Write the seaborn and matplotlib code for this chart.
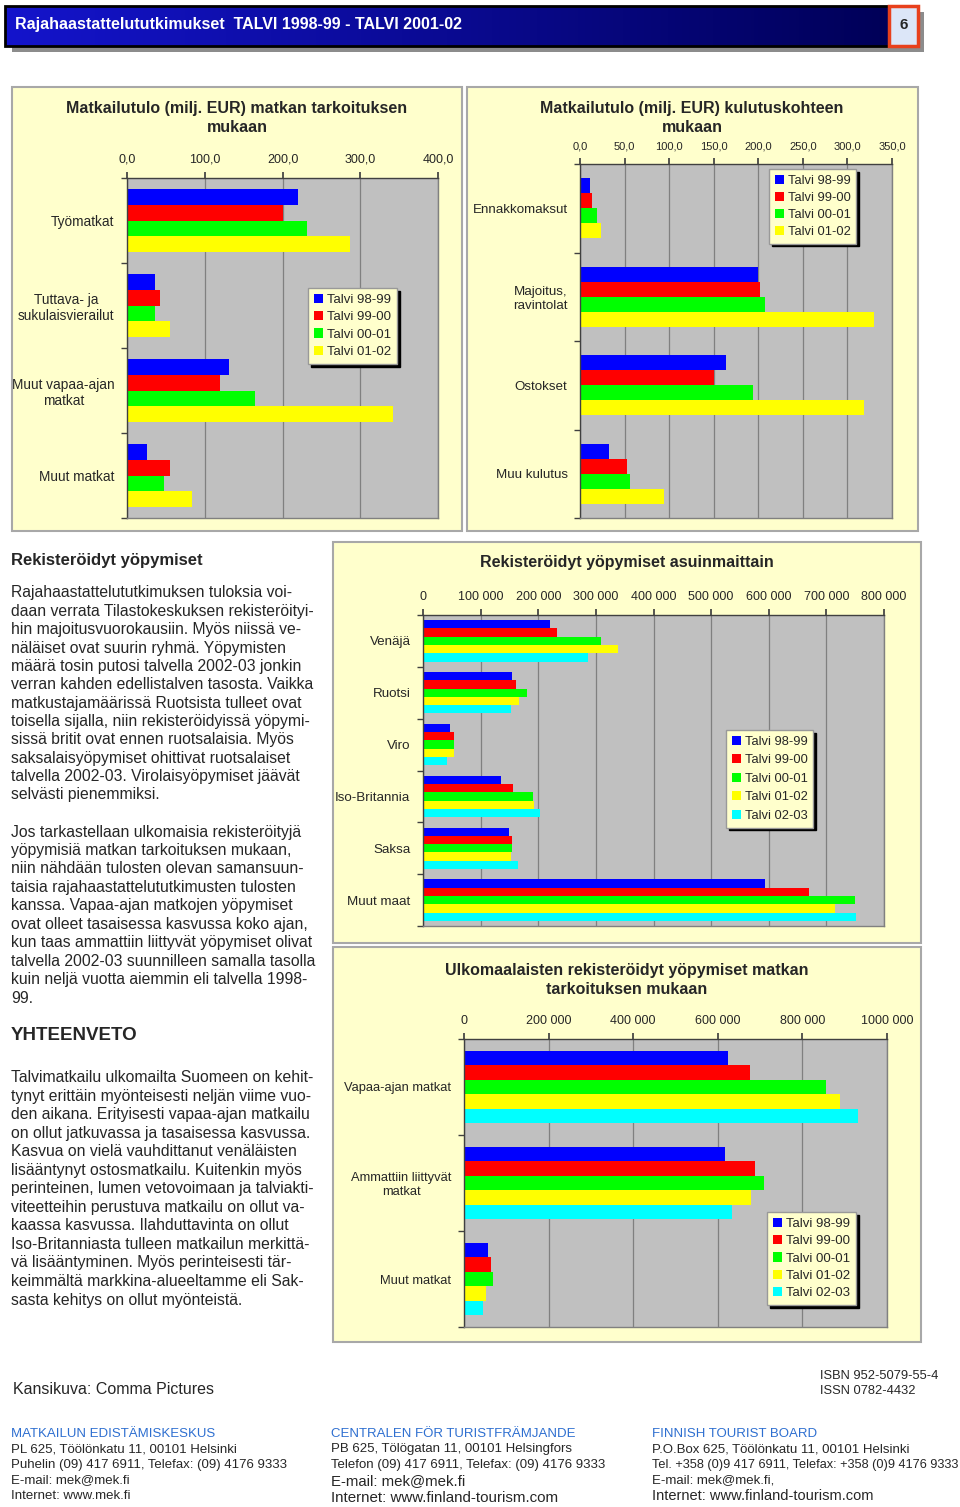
import numpy as np
import pandas as pd
import seaborn as sns
import matplotlib.pyplot as plt
from matplotlib.patches import Rectangle
from matplotlib.colors import LinearSegmentedColormap
from matplotlib.ticker import FuncFormatter

# ---------------- data ----------------
seasons4 = ["Talvi 98-99", "Talvi 99-00", "Talvi 00-01", "Talvi 01-02"]
seasons5 = seasons4 + ["Talvi 02-03"]
season_colors = ["#0000FF", "#FF0000", "#00FF00", "#FFFF00", "#00FFFF"]

# Matkailutulo (milj. EUR) matkan tarkoituksen mukaan
purpose_cats = ["Työmatkat", "Tuttava- ja\nsukulaisvierailut", "Muut vapaa-ajan\nmatkat", "Muut matkat"]
inc_purpose_9899 = [220, 36, 131, 26]
inc_purpose_9900 = [200, 42, 120, 55]
inc_purpose_0001 = [231, 36, 164, 47]
inc_purpose_0102 = [287, 55, 342, 84]

# Matkailutulo (milj. EUR) kulutuskohteen mukaan
spend_cats = ["Ennakkomaksut", "Majoitus,\nravintolat", "Ostokset", "Muu kulutus"]
spend_9899 = [11, 200, 164, 32]
spend_9900 = [13, 202, 150, 53]
spend_0001 = [19, 208, 194, 56]
spend_0102 = [24, 330, 319, 94]

# Rekisteröidyt yöpymiset asuinmaittain
countries = ["Venäjä", "Ruotsi", "Viro", "Iso-Britannia", "Saksa", "Muut maat"]
nights_9899 = [221000, 154000, 46000, 135000, 150000, 594000]
nights_9900 = [233000, 162000, 54000, 157000, 154000, 670000]
nights_0001 = [309000, 180000, 54000, 191000, 154000, 749000]
nights_0102 = [338000, 167000, 54000, 192000, 152000, 715000]
nights_0203 = [287000, 152000, 41000, 203000, 165000, 752000]

# Ulkomaalaisten rekisteröidyt yöpymiset matkan tarkoituksen mukaan
trip_types = ["Vapaa-ajan matkat", "Ammattiin liittyvät\nmatkat", "Muut matkat"]
trip_nights_9899 = [625000, 616000, 57000]
trip_nights_9900 = [676000, 689000, 63000]
trip_nights_0001 = [856000, 710000, 69000]
trip_nights_0102 = [890000, 679000, 53000]
trip_nights_0203 = [931000, 633000, 44000]

# ---------------- page setup ----------------
W, H = 960, 1507
sns.set_theme(style="white")
plt.rcParams['font.family'] = ['Liberation Sans', 'DejaVu Sans']

fig = plt.figure(figsize=(W / 100, H / 100), dpi=100)
fig.patch.set_facecolor("white")
bg = fig.add_axes([0, 0, 1, 1])
bg.set_zorder(-5)


def px_axes(x0, y0, x1, y1):
    return fig.add_axes([x0 / W, 1 - y1 / H, (x1 - x0) / W, (y1 - y0) / H])


def box(x0, y0, x1, y1, **kw):
    bg.add_patch(Rectangle((x0, y0), x1 - x0, y1 - y0, **kw))


def excel_int(v, _):
    # Excel style: "200 000", "1000 000"
    v = int(round(v))
    if v < 1000:
        return str(v)
    return f"{v // 1000} {v % 1000:03d}"


def num_fmt(decimals):
    if decimals:
        return FuncFormatter(lambda v, _: f"{v:.1f}".replace(".", ","))
    return FuncFormatter(excel_int)


def bar_chart(rect, cats, seasons, series, xmax, xstep, decimals, width,
              tick_fs, cat_fs, leg_xy, leg_fs, leg_spacing):
    ax = px_axes(*rect)
    df = pd.DataFrame({
        "cat": cats * len(seasons),
        "season": np.repeat(seasons, len(cats)),
        "value": np.concatenate(series),
    })
    sns.barplot(data=df, x="value", y="cat", hue="season", order=cats,
                hue_order=seasons, palette=season_colors[:len(seasons)],
                orient="h", width=width, saturation=1, linewidth=0,
                errorbar=None, ax=ax)
    ax.set_xlabel("")
    ax.set_ylabel("")
    ax.set_facecolor("#C0C0C0")
    ax.set_xlim(0, xmax)
    ax.set_xticks(np.arange(0, xmax + 1, xstep))
    ax.xaxis.set_major_formatter(num_fmt(decimals))
    ax.set_axisbelow(True)
    ax.grid(axis="x", color="#808080", linewidth=0.9)
    ax.grid(axis="y", visible=False)
    n = len(cats)
    ax.set_yticks(np.arange(-0.5, n + 0.5, 1), minor=True)
    ax.tick_params(axis="x", which="major", top=True, bottom=False, labeltop=True,
                   labelbottom=False, length=4, pad=5, color="#404040",
                   labelsize=tick_fs)
    ax.tick_params(axis="y", which="major", length=0, pad=9, labelsize=cat_fs)
    ax.tick_params(axis="y", which="minor", left=True, length=4, color="#404040")
    for lab in ax.get_yticklabels():
        lab.set_multialignment("center")
    for side, sp in ax.spines.items():
        sp.set_color("#808080" if side in ("right", "bottom") else "#404040")
        sp.set_linewidth(1)
    handles, labels = ax.get_legend_handles_labels()
    if ax.get_legend() is not None:
        ax.get_legend().remove()
    ax.legend(handles, labels, loc="upper left",
              bbox_to_anchor=(leg_xy[0] / W, 1 - leg_xy[1] / H),
              bbox_transform=fig.transFigure, borderaxespad=0,
              frameon=True, fancybox=False, framealpha=1,
              shadow={"color": "black", "alpha": 1},
              facecolor="#FFFFCC", edgecolor="#999999", fontsize=leg_fs,
              handlelength=0.7, handleheight=0.7, handletextpad=0.3,
              labelspacing=leg_spacing, borderpad=0.45)
    return ax


# ---------------- header ----------------
grad = np.linspace(0, 1, 256).reshape(1, -1)
hdr_cmap = LinearSegmentedColormap.from_list("hdr", ["#1414CC", "#000058"])
box(12, 12, 924, 52, facecolor="#8C8C8C", edgecolor="none")
bg.imshow(grad, extent=(5, 889, 46, 6), aspect="auto", cmap=hdr_cmap, zorder=1)
box(5, 6, 889, 46, facecolor="none", edgecolor="black", linewidth=2, zorder=2)
box(889, 6, 918, 46, facecolor="#DCE6F8", edgecolor="#E8401C", linewidth=2.5, zorder=2)
bg.text(15, 25, "Rajahaastattelututkimukset  TALVI 1998-99 - TALVI 2001-02",
        color="white", fontsize=11.5, fontweight="bold", va="center", zorder=3)
bg.text(903.5, 25, "6", fontsize=11, fontweight="bold", ha="center", va="center", zorder=3)

# ---------------- chart panels ----------------
panel_kw = dict(facecolor="#FFFFCC", edgecolor="#A8A8A8", linewidth=1.5)
box(12, 87, 462, 531, **panel_kw)
box(467, 87, 918, 531, **panel_kw)
box(333, 542, 921, 943, **panel_kw)
box(333, 947, 921, 1342, **panel_kw)

title_kw = dict(fontsize=11.5, fontweight="bold", ha="center", va="center")
bg.text(237, 108, "Matkailutulo (milj. EUR) matkan tarkoituksen", **title_kw)
bg.text(237, 128, "mukaan", **title_kw)
bg.text(692, 108, "Matkailutulo (milj. EUR) kulutuskohteen", **title_kw)
bg.text(692, 128, "mukaan", **title_kw)
bg.text(627, 563, "Rekisteröidyt yöpymiset asuinmaittain", **title_kw)
bg.text(627, 970, "Ulkomaalaisten rekisteröidyt yöpymiset matkan", **title_kw)
bg.text(627, 989, "tarkoituksen mukaan", **title_kw)

bar_chart((127, 178, 438, 518), purpose_cats, seasons4,
          [inc_purpose_9899, inc_purpose_9900, inc_purpose_0001, inc_purpose_0102],
          400, 100, True, 0.74, 9, 9.8, (308, 288), 9.5, 0.38)
bar_chart((580, 164, 892, 518), spend_cats, seasons4,
          [spend_9899, spend_9900, spend_0001, spend_0102],
          350, 50, True, 0.68, 8, 9.6, (769, 169), 9.3, 0.38)
bar_chart((423, 615, 884, 926), countries, seasons5,
          [nights_9899, nights_9900, nights_0001, nights_0102, nights_0203],
          800000, 100000, False, 0.8, 9, 9.6, (726, 730), 9.3, 0.5)
bar_chart((464, 1039, 887, 1327), trip_types, seasons5,
          [trip_nights_9899, trip_nights_9900, trip_nights_0001,
           trip_nights_0102, trip_nights_0203],
          1000000, 200000, False, 0.75, 9, 9.3, (767, 1212), 9.5, 0.38)

# ---------------- text column ----------------
para1 = [
    "Rajahaastattelututkimuksen tuloksia voi-",
    "daan verrata Tilastokeskuksen rekisteröityi-",
    "hin majoitusvuorokausiin. Myös niissä ve-",
    "näläiset ovat suurin ryhmä. Yöpymisten",
    "määrä tosin putosi talvella 2002-03 jonkin",
    "verran kahden edellistalven tasosta. Vaikka",
    "matkustajamäärissä Ruotsista tulleet ovat",
    "toisella sijalla, niin rekisteröidyissä yöpymi-",
    "sissä britit ovat ennen ruotsalaisia. Myös",
    "saksalaisyöpymiset ohittivat ruotsalaiset",
    "talvella 2002-03. Virolaisyöpymiset jäävät",
    "selvästi pienemmiksi.",
]
para2 = [
    "Jos tarkastellaan ulkomaisia rekisteröityjä",
    "yöpymisiä matkan tarkoituksen mukaan,",
    "niin nähdään tulosten olevan samansuun-",
    "taisia rajahaastattelututkimusten tulosten",
    "kanssa. Vapaa-ajan matkojen yöpymiset",
    "ovat olleet tasaisessa kasvussa koko ajan,",
    "kun taas ammattiin liittyvät yöpymiset olivat",
    "talvella 2002-03 suunnilleen samalla tasolla",
    "kuin neljä vuotta aiemmin eli talvella 1998-",
    "99.",
]
para3 = [
    "Talvimatkailu ulkomailta Suomeen on kehit-",
    "tynyt erittäin myönteisesti neljän viime vuo-",
    "den aikana. Erityisesti vapaa-ajan matkailu",
    "on ollut jatkuvassa ja tasaisessa kasvussa.",
    "Kasvua on vielä vauhdittanut venäläisten",
    "lisääntynyt ostosmatkailu. Kuitenkin myös",
    "perinteinen, lumen vetovoimaan ja talviakti-",
    "viteetteihin perustuva matkailu on ollut va-",
    "kaassa kasvussa. Ilahduttavinta on ollut",
    "Iso-Britanniasta tulleen matkailun merkittä-",
    "vä lisääntyminen. Myös perinteisesti tär-",
    "keimmältä markkina-alueeltamme eli Sak-",
    "sasta kehitys on ollut myönteistä.",
]

bg.text(11, 560, "Rekisteröidyt yöpymiset", fontsize=12, fontweight="bold", va="center")
bg.text(11, 1036, "YHTEENVETO", fontsize=13.5, fontweight="bold", va="center")
for first_y, step, lines in [(593, 18.36, para1), (832, 18.45, para2), (1078, 18.5, para3)]:
    for i, line in enumerate(lines):
        bg.text(11, first_y + i * step, line, fontsize=11.3, va="center")

# ---------------- footer ----------------
bg.text(13, 1389, "Kansikuva: Comma Pictures", fontsize=11.5, va="center")
bg.text(820, 1376, "ISBN 952-5079-55-4", fontsize=9.3, va="center")
bg.text(820, 1391, "ISSN 0782-4432", fontsize=9.3, va="center")

blue_txt = "#2E6FD0"
footer_cols = [
    (11, "MATKAILUN EDISTÄMISKESKUS",
     [("PL 625, Töölönkatu 11, 00101 Helsinki", 1449, 9.5),
      ("Puhelin (09) 417 6911, Telefax: (09) 4176 9333", 1465, 9.5),
      ("E-mail: mek@mek.fi", 1480, 9.5),
      ("Internet: www.mek.fi", 1496, 9.5)]),
    (331, "CENTRALEN FÖR TURISTFRÄMJANDE",
     [("PB 625, Tölögatan 11, 00101 Helsingfors", 1449, 9.5),
      ("Telefon (09) 417 6911, Telefax: (09) 4176 9333", 1465, 9.5),
      ("E-mail: mek@mek.fi", 1481, 10.8),
      ("Internet: www.finland-tourism.com", 1498, 10.9)]),
    (652, "FINNISH TOURIST BOARD",
     [("P.O.Box 625, Töölönkatu 11, 00101 Helsinki", 1449, 9.5),
      ("Tel. +358 (0)9 417 6911, Telefax: +358 (0)9 4176 9333", 1465, 9.2),
      ("E-mail: mek@mek.fi,", 1480, 9.5),
      ("Internet: www.finland-tourism.com", 1496, 10.5)]),
]
for x, head, rows in footer_cols:
    bg.text(x, 1434, head, fontsize=9.5, color=blue_txt, va="center")
    for txt, y, fs in rows:
        bg.text(x, y, txt, fontsize=fs, va="center")

bg.set_xlim(0, W)
bg.set_ylim(H, 0)
bg.axis("off")

fig.savefig("out.png", dpi=100, facecolor="white")
